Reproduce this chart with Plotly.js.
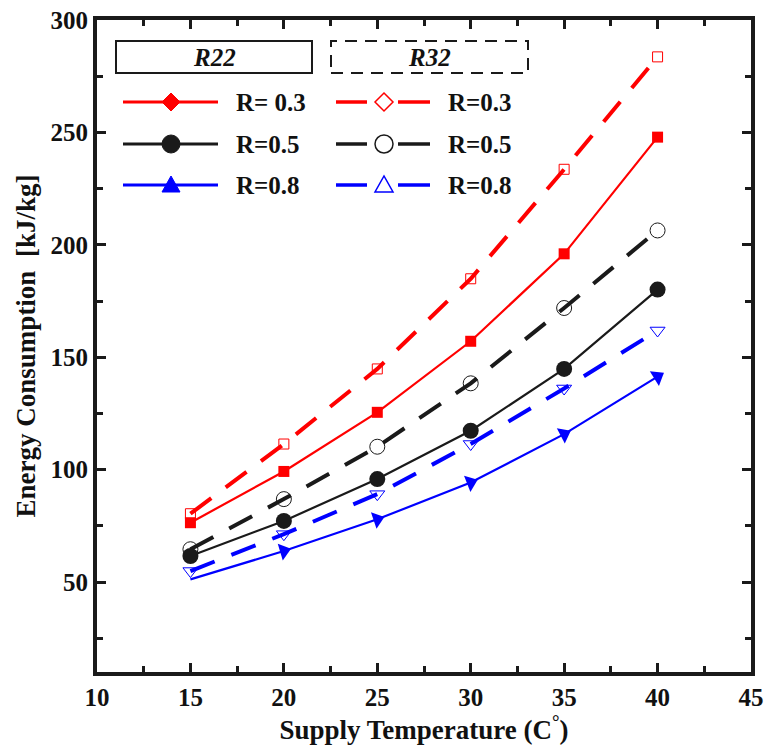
<!DOCTYPE html>
<html><head><meta charset="utf-8">
<script src="https://cdn.plot.ly/plotly-3.0.1.min.js"></script>
<style>body{margin:0;background:#fff}#chart{width:767px;height:752px}</style>
</head><body><div id="chart"></div>
<script>
// ---- data ----
const supplyTemp = [15, 20, 25, 30, 35, 40];
const r22_R03 = [76.4, 99.2, 125.5, 157.1, 196.0, 247.9];
const r22_R05 = [61.6, 77.2, 95.8, 117.3, 144.8, 180.1];
const r22_R08 = [51.2, 63.8, 77.9, 94.3, 115.8, 141.4];
const r32_R03 = [80.4, 111.4, 144.8, 184.9, 233.6, 283.6];
const r32_R05 = [64.6, 86.9, 110.2, 138.4, 171.9, 206.4];
const r32_R08 = [54.9, 71.3, 89.1, 111.4, 136.1, 161.9];
const legendLabelsR22 = ['R= 0.3', 'R=0.5', 'R=0.8'];
const legendLabelsR32 = ['R=0.3', 'R=0.5', 'R=0.8'];
const groupNames = ['R22', 'R32'];

const RED = '#ff0000', BLACK = '#1a1a1a', BLUE = '#0000ff';
const FONT = 'Liberation Serif';

const traces = [
  {x: supplyTemp, y: r32_R03, mode: 'lines+markers', line: {color: RED, width: 4, dash: '26px,18px'},
   marker: {symbol: 'square-open', size: 10, color: RED, line: {width: 1}}},
  {x: supplyTemp, y: r32_R05, mode: 'lines+markers', line: {color: BLACK, width: 4, dash: '26px,18px'},
   marker: {symbol: 'circle-open', size: 15, color: BLACK, line: {width: 1}}},
  {x: supplyTemp, y: r32_R08, mode: 'lines+markers', line: {color: BLUE, width: 4, dash: '26px,18px'},
   marker: {symbol: 'triangle-down-open', size: 13, color: BLUE, line: {width: 1}}},
  {x: supplyTemp, y: r22_R03, mode: 'lines+markers', line: {color: RED, width: 2.2},
   marker: {symbol: 'square', size: 11, color: RED}},
  {x: supplyTemp, y: r22_R05, mode: 'lines+markers', line: {color: BLACK, width: 2.2},
   marker: {symbol: 'circle', size: 16, color: BLACK}},
  {x: supplyTemp, y: r22_R08, mode: 'lines+markers', line: {color: BLUE, width: 2.2},
   marker: {symbol: 'triangle-up', size: 15, color: BLUE, angleref: 'previous'}}
];

// ---- layout helpers (pixel -> paper) ----
const L = 97, R = 16, T = 20, B = 80, W = 767, H = 752;
const PW = W - L - R, PH = H - T - B;
const px = v => (v - L) / PW;
const py = v => (H - B - v) / PH;

const shapes = [];
const annotations = [];
const txtFont = {family: FONT, size: 25, color: '#111', weight: 'bold'};
// group header boxes
const boxes = [[116, 312, 'solid'], [331, 528, 'dash']];
boxes.forEach((b, i) => {
  shapes.push({type: 'rect', xref: 'paper', yref: 'paper', x0: px(b[0]), x1: px(b[1]), y0: py(73), y1: py(41),
    line: {color: BLACK, width: 2, dash: b[2] === 'dash' ? '12px,8px' : 'solid'}});
  annotations.push({xref: 'paper', yref: 'paper', x: px((b[0] + b[1]) / 2), y: py(57), xanchor: 'center', yanchor: 'middle',
    text: '<i>' + groupNames[i] + '</i>', showarrow: false, font: txtFont});
});
const rowY = [102, 144, 185];
const colors = [RED, BLACK, BLUE];
const symbolPaths = {
  diamond: 'M 0,9 L 9,0 L 0,-9 L -9,0 Z',
  triangle: 'M -9,-7 L 9,-7 L 0,9 Z'
};
rowY.forEach((yy, i) => {
  const c = colors[i];
  shapes.push({type: 'line', xref: 'paper', yref: 'paper', x0: px(123), x1: px(218), y0: py(yy), y1: py(yy), line: {color: c, width: 3}});
  shapes.push({type: 'line', xref: 'paper', yref: 'paper', x0: px(336), x1: px(367), y0: py(yy), y1: py(yy), line: {color: c, width: 3.5}});
  shapes.push({type: 'line', xref: 'paper', yref: 'paper', x0: px(398), x1: px(430), y0: py(yy), y1: py(yy), line: {color: c, width: 3.5}});
  const markerAt = (cx, filled) => {
    const common = {xref: 'paper', yref: 'paper', xsizemode: 'pixel', ysizemode: 'pixel', xanchor: px(cx), yanchor: py(yy),
      line: {color: c, width: filled ? 1 : 1.5}, fillcolor: filled ? c : '#ffffff'};
    if (i === 0) shapes.push(Object.assign({type: 'path', path: symbolPaths.diamond}, common));
    else if (i === 1) shapes.push(Object.assign({type: 'circle', x0: -9, x1: 9, y0: -9, y1: 9}, common));
    else shapes.push(Object.assign({type: 'path', path: symbolPaths.triangle}, common));
  };
  markerAt(171, true);
  markerAt(384, false);
  annotations.push({xref: 'paper', yref: 'paper', x: px(234), y: py(yy), xanchor: 'left', yanchor: 'middle', text: legendLabelsR22[i],
    showarrow: false, font: txtFont});
  annotations.push({xref: 'paper', yref: 'paper', x: px(446), y: py(yy), xanchor: 'left', yanchor: 'middle', text: legendLabelsR32[i],
    showarrow: false, font: txtFont});
});

const axisCommon = {
  showline: true, linecolor: BLACK, linewidth: 4, mirror: 'allticks',
  ticks: 'inside', ticklen: 9, tickwidth: 3, tickcolor: BLACK,
  showgrid: false, zeroline: false,
  tickfont: {family: FONT, size: 25, color: '#111', weight: 'bold'}
};

const layout = {
  width: W, height: H,
  margin: {l: L, r: R, t: T, b: B},
  paper_bgcolor: '#fff', plot_bgcolor: '#fff',
  showlegend: false,
  xaxis: Object.assign({}, axisCommon, {
    range: [10, 45], tick0: 10, dtick: 5,
    minor: {dtick: 2.5, tick0: 10, ticks: 'inside', ticklen: 6, tickwidth: 3, tickcolor: BLACK},
    title: {text: 'Supply Temperature (C<sup>°</sup>)', standoff: 8, font: {family: FONT, size: 27, color: '#111', weight: 'bold'}}
  }),
  yaxis: Object.assign({}, axisCommon, {
    range: [10, 300], tick0: 0, dtick: 50,
    minor: {dtick: 25, tick0: 0, ticks: 'inside', ticklen: 6, tickwidth: 3, tickcolor: BLACK},
    title: {text: 'Energy Consumption  [kJ/kg]', standoff: 8, font: {family: FONT, size: 27, color: '#111', weight: 'bold'}}
  }),
  shapes: shapes,
  annotations: annotations
};

Plotly.newPlot('chart', traces, layout, {displayModeBar: false, staticPlot: true});
</script>
</body></html>
